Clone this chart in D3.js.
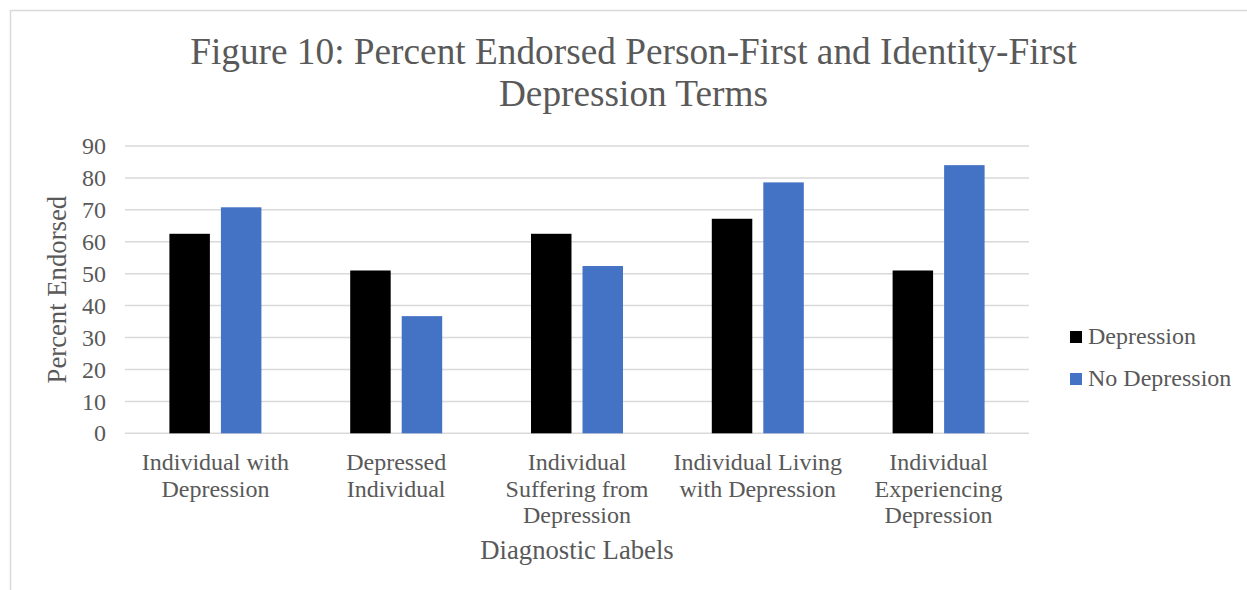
<!DOCTYPE html>
<html>
<head>
<meta charset="utf-8">
<script src="https://cdn.jsdelivr.net/npm/d3@7"></script>
<style>
  html, body { margin: 0; padding: 0; background: #fff; }
  svg { display: block; }
  text { font-family: "Liberation Serif", "Times New Roman", serif; fill: #595959; }
</style>
</head>
<body>
<svg id="chart" width="1247" height="590"></svg>
<script>
// Diagnostic label categories (lines are wrapped as in the axis)
const categories = [
  "Individual with Depression",
  "Depressed Individual",
  "Individual Suffering from Depression",
  "Individual Living with Depression",
  "Individual Experiencing Depression"
];
const categoryLines = [
  ["Individual with", "Depression"],
  ["Depressed", "Individual"],
  ["Individual", "Suffering from", "Depression"],
  ["Individual Living", "with Depression"],
  ["Individual", "Experiencing", "Depression"]
];
const seriesNames = ["Depression", "No Depression"];
const depression = [62.5, 51.0, 62.5, 67.2, 51.0];
const noDepression = [70.8, 36.7, 52.4, 78.6, 84.0];
const yTicks = [0, 10, 20, 30, 40, 50, 60, 70, 80, 90];
const colors = ["#000000", "#4472C4"];

const svg = d3.select("#chart");

// Outer chart frame
svg.append("rect")
  .attr("x", 10.5).attr("y", 10.5)
  .attr("width", 1260).attr("height", 600)
  .attr("fill", "none").attr("stroke", "#d9d9d9").attr("stroke-width", 1.5);

const plot = { left: 125, right: 1029, top: 146, bottom: 433.3 };

const x = d3.scaleBand().domain(categories).range([plot.left, plot.right]).padding(0);
const xInner = d3.scaleBand().domain(seriesNames)
  .range([0, x.bandwidth()]).paddingInner(0.214).paddingOuter(0.862);
const y = d3.scaleLinear().domain([0, 90]).range([plot.bottom, plot.top]);

// Gridlines
svg.append("g").selectAll("line").data(yTicks).join("line")
  .attr("x1", plot.left).attr("x2", plot.right)
  .attr("y1", d => y(d)).attr("y2", d => y(d))
  .attr("stroke", "#d9d9d9").attr("stroke-width", 1.5);

// Y axis tick labels
const yAxis = d3.axisLeft(y).tickValues(yTicks).tickSize(0).tickPadding(19);
svg.append("g").attr("transform", `translate(${plot.left},0)`).call(yAxis)
  .call(g => g.select(".domain").remove())
  .call(g => g.selectAll("text")
    .style("font-family", "'Liberation Serif', serif")
    .style("font-size", "24px").attr("fill", "#595959"));

// Bars
const rows = categories.map((c, i) => ({ cat: c, vals: [depression[i], noDepression[i]] }));
const groups = svg.append("g").selectAll("g").data(rows).join("g")
  .attr("transform", d => `translate(${x(d.cat)},0)`);
groups.selectAll("rect").data(d => d.vals.map((v, j) => ({ key: seriesNames[j], v, j })))
  .join("rect")
  .attr("x", d => xInner(d.key))
  .attr("width", xInner.bandwidth())
  .attr("y", d => y(d.v))
  .attr("height", d => y(0) - y(d.v))
  .attr("fill", d => colors[d.j]);

// X axis category labels
const xl = svg.append("g").selectAll("text").data(categories).join("text")
  .attr("text-anchor", "middle")
  .attr("font-size", 24)
  .attr("x", d => x(d) + x.bandwidth() / 2)
  .attr("y", 470);
xl.each(function(d, i) {
  d3.select(this).selectAll("tspan").data(categoryLines[i]).join("tspan")
    .attr("x", x(d) + x.bandwidth() / 2)
    .attr("dy", (t, k) => k === 0 ? 0 : 26.5)
    .text(t => t);
});

// Axis titles
svg.append("text").attr("text-anchor", "middle").attr("font-size", 26.7)
  .attr("x", (plot.left + plot.right) / 2).attr("y", 559)
  .text("Diagnostic Labels");
svg.append("text").attr("text-anchor", "middle").attr("font-size", 26.7)
  .attr("transform", `translate(66,${(plot.top + plot.bottom) / 2}) rotate(-90)`)
  .text("Percent Endorsed");

// Title
const title = svg.append("text").attr("text-anchor", "middle").attr("font-size", 37.3);
title.append("tspan").attr("x", 633.5).attr("y", 64)
  .text("Figure 10: Percent Endorsed Person-First and Identity-First");
title.append("tspan").attr("x", 633.5).attr("y", 106)
  .text("Depression Terms");

// Legend
const legend = svg.append("g").selectAll("g").data(seriesNames).join("g")
  .attr("transform", (d, i) => `translate(1070,${331 + i * 42})`);
legend.append("rect").attr("width", 12).attr("height", 12)
  .attr("fill", (d, i) => colors[i]);
legend.append("text").attr("x", 18).attr("y", 12.5).attr("font-size", 24).text(d => d);
</script>
</body>
</html>
